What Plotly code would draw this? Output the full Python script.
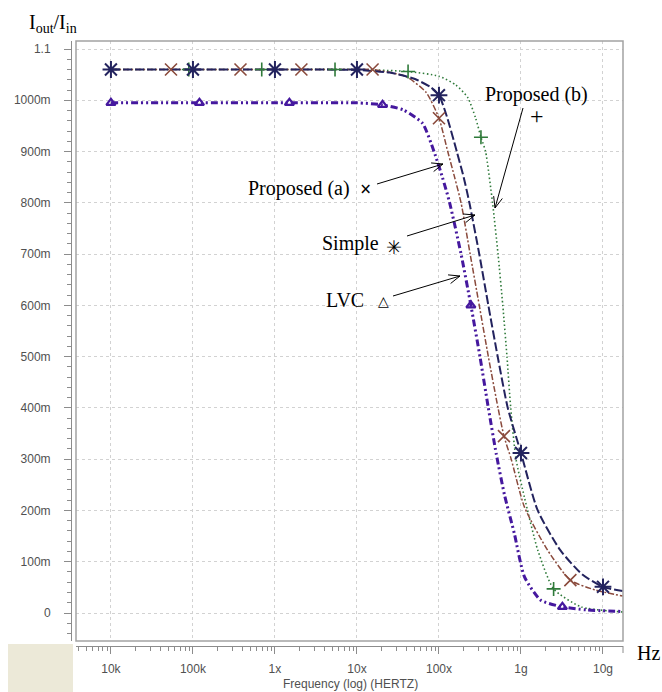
import math
import plotly.graph_objects as go

# ---------------- data ----------------
x_tick_vals = [1e4, 1e5, 1e6, 1e7, 1e8, 1e9, 1e10]
x_tick_text = ["10k", "100k", "1x", "10x", "100x", "1g", "10g"]
y_tick_vals = [0, 0.1, 0.2, 0.3, 0.4, 0.5, 0.6, 0.7, 0.8, 0.9, 1.0, 1.1]
y_tick_text = ["0", "100m", "200m", "300m", "400m", "500m", "600m",
               "700m", "800m", "900m", "1000m", "1.1"]

simple_f = [1e4, 1e5, 1e6, 1e7, 2.5e7, 5e7, 8e7, 1e8, 1.25e8, 1.65e8, 2.0e8,
            2.35e8, 3.1e8, 4.0e8, 5.2e8, 6.9e8, 1e9, 1.6e9, 3.0e9, 5.6e9, 1e10, 1.74e10]
simple_v = [1.060, 1.060, 1.060, 1.059, 1.054, 1.042, 1.025, 1.010, 0.968, 0.900, 0.850,
            0.800, 0.700, 0.600, 0.500, 0.400, 0.312, 0.200, 0.123, 0.075, 0.051, 0.043]
simple_mf = [1e4, 1e5, 1e6, 1e7, 1e8, 1e9, 1e10]
simple_mv = [1.060, 1.060, 1.060, 1.060, 1.010, 0.312, 0.051]

prop_a_f = [1e4, 1e5, 1e6, 1e7, 1.55e7, 4e7, 7e7, 1e8, 1.28e8, 1.55e8, 1.86e8,
            2.4e8, 3.1e8, 4.0e8, 5.25e8, 6.2e8, 7.6e8, 1.1e9, 2.1e9, 4.0e9, 8e9, 1.74e10]
prop_a_v = [1.060, 1.060, 1.060, 1.060, 1.060, 1.046, 1.015, 0.965, 0.900, 0.850, 0.800,
            0.700, 0.600, 0.500, 0.400, 0.345, 0.300, 0.207, 0.123, 0.064, 0.045, 0.033]
prop_a_mf = [5.4e4, 3.8e5, 2.1e6, 1.55e7, 1e8, 6.2e8, 4.0e9]
prop_a_mv = [1.060, 1.060, 1.060, 1.060, 0.965, 0.345, 0.064]

prop_b_f = [1e4, 1e5, 1e6, 1e7, 4.2e7, 1e8, 1.6e8, 2.25e8, 2.8e8, 3.25e8, 3.7e8,
            4.5e8, 5.25e8, 6.0e8, 6.75e8, 7.5e8, 8.7e8, 1.1e9, 1.6e9, 2.5e9, 5.4e9, 1.74e10]
prop_b_v = [1.060, 1.060, 1.060, 1.060, 1.056, 1.047, 1.030, 1.005, 0.965, 0.928, 0.900,
            0.800, 0.700, 0.600, 0.500, 0.400, 0.300, 0.226, 0.123, 0.047, 0.012, 0.002]
prop_b_mf = [8.9e4, 6.9e5, 5.4e6, 4.2e7, 3.25e8, 2.5e9]
prop_b_mv = [1.060, 1.060, 1.060, 1.056, 0.928, 0.047]

lvc_f = [1e4, 1e5, 1e6, 1e7, 2.05e7, 3.7e7, 6.3e7, 8.7e7, 1.1e8, 1.35e8, 1.86e8,
         2.45e8, 3.16e8, 4.0e8, 5.0e8, 6.3e8, 8.3e8, 1.1e9, 1.74e9, 3.2e9, 6.3e9, 1.74e10]
lvc_v = [0.995, 0.995, 0.995, 0.995, 0.991, 0.981, 0.955, 0.900, 0.850, 0.800, 0.700,
         0.600, 0.500, 0.400, 0.310, 0.230, 0.155, 0.071, 0.025, 0.012, 0.006, 0.003]
lvc_mf = [1e4, 1.2e5, 1.5e6, 2.05e7, 2.45e8, 3.2e9]
lvc_mv = [0.995, 0.995, 0.995, 0.991, 0.600, 0.012]

# ---------------- styling ----------------
C_SIMPLE = "#23235e"
C_A = "#8a4a3c"
C_B = "#2f7a3a"
C_LVC = "#45189e"
SERIF = "Times New Roman, Liberation Serif, serif"
SANS = "Arial, Liberation Sans, sans-serif"

W, H = 662, 692
PL, PR, PT, PB = 71, 623, 41, 646   # axis-line box (page px)
ML, MT = PL, PT
MR = W - PR
MB = H - PB
PW = W - ML - MR
PH = H - MT - MB


def px(x):
    return (x - PL) / PW


def py(y):
    return (PB - y) / PH


fig = go.Figure()

line_specs = [
    (prop_b_f, prop_b_v, C_B, 1.6, "1.5px,2.5px"),
    (prop_a_f, prop_a_v, C_A, 1.5, "6px,2px,2px,2px"),
    (lvc_f, lvc_v, C_LVC, 3.0, "7px,3px,2px,3px,2px,3px"),
    (simple_f, simple_v, C_SIMPLE, 2.0, "9px,3px"),
]
for f, v, c, w, d in line_specs:
    fig.add_trace(go.Scatter(x=f, y=v, mode="lines", showlegend=False,
                             line=dict(color=c, width=w, dash=d, shape="spline", smoothing=0.6),
                             hoverinfo="skip"))

marker_specs = [
    (prop_b_mf, prop_b_mv, C_B, "cross-thin-open", 10, 1.6),
    (prop_a_mf, prop_a_mv, C_A, "x-thin-open", 12, 1.6),
    (lvc_mf, lvc_mv, C_LVC, "triangle-up-open", 8, 2.2),
    (simple_mf, simple_mv, C_SIMPLE, "asterisk-open", 14, 2.0),
]
for f, v, c, s, sz, lw in marker_specs:
    fig.add_trace(go.Scatter(x=f, y=v, mode="markers", showlegend=False,
                             marker=dict(symbol=s, size=sz, color=c,
                                         line=dict(color=c, width=lw)),
                             hoverinfo="skip"))

axis_common = dict(showline=True, linecolor="#8c8c8c", linewidth=1,
                   ticks="outside", ticklen=7, tickcolor="#8c8c8c", tickwidth=1,
                   showgrid=True, gridcolor="#d2d2d2", gridwidth=1, griddash="3px,3px",
                   zeroline=False, tickfont=dict(family=SANS, size=12, color="#505050"),
                   anchor="free", position=0)

fig.update_layout(
    width=W, height=H,
    margin=dict(l=ML, r=MR, t=MT, b=MB, pad=0),
    paper_bgcolor="white", plot_bgcolor="white",
    xaxis=dict(type="log", range=[3.574, 10.244], domain=[px(76), 1],
               tickmode="array", tickvals=x_tick_vals, ticktext=x_tick_text,
               ticklabelstandoff=5,
               minor=dict(ticks="outside", ticklen=4, tickcolor="#8c8c8c",
                          dtick="D1", showgrid=False),
               **axis_common),
    yaxis=dict(range=[-0.0546, 1.1156], domain=[py(641), 1],
               tickmode="array", tickvals=y_tick_vals, ticktext=y_tick_text,
               ticklabelstandoff=11,
               minor=dict(ticks="outside", ticklen=4, tickcolor="#8c8c8c",
                          dtick=0.02, showgrid=False),
               **axis_common),
)

shapes = [
    dict(type="rect", xref="paper", yref="paper", x0=px(8), x1=px(73),
         y0=py(692), y1=py(644), fillcolor="#ECE9D8", line=dict(width=0), layer="below"),
    dict(type="rect", xref="paper", yref="paper", x0=px(76), x1=1, y0=py(641), y1=1,
         line=dict(color="#a2a2a2", width=1.5), layer="above"),
    dict(type="line", xref="paper", yref="paper", x0=1, x1=1, y0=0, y1=py(653),
         line=dict(color="#8c8c8c", width=1)),
]

arrows = [
    ((523, 108), (495, 208)),
    ((377, 184), (443, 164)),
    ((407, 236), (475, 215)),
    ((393, 296), (460, 276)),
]
for (tx, ty), (hx, hy) in arrows:
    shapes.append(dict(type="line", xref="paper", yref="paper",
                       x0=px(tx), y0=py(ty), x1=px(hx), y1=py(hy),
                       line=dict(color="black", width=1)))
    dx, dy = tx - hx, ty - hy
    L = math.hypot(dx, dy)
    ux, uy = dx / L, dy / L
    for ang in (math.radians(22), -math.radians(22)):
        bx = ux * math.cos(ang) - uy * math.sin(ang)
        by = ux * math.sin(ang) + uy * math.cos(ang)
        shapes.append(dict(type="line", xref="paper", yref="paper",
                           x0=px(hx), y0=py(hy), x1=px(hx + 12 * bx), y1=py(hy + 12 * by),
                           line=dict(color="black", width=1)))

fig.update_layout(shapes=shapes)


def ann(text, x, y, size=20, xanchor="left", family=SERIF, color="black"):
    fig.add_annotation(text=text, xref="paper", yref="paper", x=px(x), y=py(y),
                       xanchor=xanchor, yanchor="middle", showarrow=False,
                       font=dict(family=family, size=size, color=color))


ann("I<sub>out</sub>/I<sub>in</sub>", 27, 24)
ann("Hz", 635, 653)
ann("Proposed (b)", 483, 95)
ann("+", 537, 116, size=24, xanchor="center")
ann("Proposed (a)", 246, 188)
ann("<b>×</b>", 365, 189, size=20, xanchor="center")
ann("Simple", 320, 244)
ann("✳", 394, 247, size=19, xanchor="center", family="DejaVu Sans")
ann("LVC", 324, 300)
ann("<b>△</b>", 383, 301, size=14, xanchor="center", family="DejaVu Sans")
ann("Frequency (log) (HERTZ)", 350, 684, size=12, xanchor="center",
    family=SANS, color="#505050")

fig.write_html("out.html",
               config={"displayModeBar": False},
               post_script="document.body.style.margin='0';document.body.style.overflow='hidden';")
